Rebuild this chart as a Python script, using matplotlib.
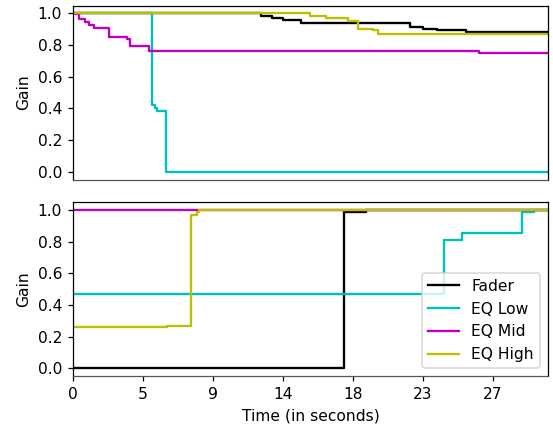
import numpy as np
from matplotlib import pyplot as plt
from matplotlib.ticker import MultipleLocator, FuncFormatter

#--------------------------------------------------------------------------------------------
# gain automation (time in seconds, value), step-wise
t_end = 30.8
names = ['Fader', 'EQ Low', 'EQ Mid', 'EQ High']
colors = ['k', 'c', 'm', 'y']

# upper panel
fader_t1 = [0, 12.2, 12.9, 13.6, 14.8, 21.84, 22.7, 23.6, 25.5, t_end]
fader_v1 = [1.0, 0.985, 0.97, 0.958, 0.94, 0.916, 0.905, 0.895, 0.886, 0.886]
low_t1 = [0, 5.12, 5.3, 5.42, 6.05, t_end]
low_v1 = [1.0, 0.42, 0.40, 0.385, 0.0, 0.0]
mid_t1 = [0, 0.1, 0.41, 0.78, 1.05, 1.36, 2.35, 3.48, 3.69, 4.94, 26.3, t_end]
mid_v1 = [1.0, 0.995, 0.968, 0.947, 0.926, 0.909, 0.853, 0.84, 0.796, 0.766, 0.75, 0.75]
high_t1 = [0, 15.36, 16.4, 17.8, 18.45, 19.44, 19.76, t_end]
high_v1 = [1.0, 0.987, 0.973, 0.955, 0.90, 0.895, 0.869, 0.869]

# lower panel
fader_t2 = [0, 17.6, 19.0, t_end]
fader_v2 = [0.0, 0.99, 1.0, 1.0]
low_t2 = [0, 24.05, 25.2, 29.1, 29.9, t_end]
low_v2 = [0.468, 0.81, 0.853, 0.99, 1.0, 1.0]
mid_t2 = [0, t_end]
mid_v2 = [1.0, 1.0]
high_t2 = [0, 6.12, 6.64, 7.62, 8.05, 8.18, t_end]
high_v2 = [0.262, 0.266, 0.27, 0.968, 0.99, 1.0, 1.0]

panels = [
  [(fader_t1, fader_v1), (low_t1, low_v1), (mid_t1, mid_v1), (high_t1, high_v1)],
  [(fader_t2, fader_v2), (low_t2, low_v2), (mid_t2, mid_v2), (high_t2, high_v2)],
]

#--------------------------------------------------------------------------------------------
dpi = 112
fig, axs = plt.subplots(2, 1, sharex=True, figsize=(553 / dpi, 430 / dpi), dpi=dpi)
fig.subplots_adjust(left=0.132, right=0.991, top=0.987, bottom=0.125, hspace=0.13)

for ax, series in zip(axs, panels):
  for (t, v), name, c in zip(series, names, colors):
    ax.plot(t, v, drawstyle='steps-post', lw=1.5, c=c, label=name)
  ax.set_ylabel('Gain')
  ax.set_xlim(0, t_end)
  ax.yaxis.set_major_locator(MultipleLocator(0.2))
  ax.yaxis.set_major_formatter(FuncFormatter(lambda y, p: '%.1f' % y))
  ax.spines['bottom'].set_color('#555555')

axs[0].tick_params(axis='x', bottom=False)

# ticks every 200000 samples at 44.1 kHz, labelled in rounded seconds
axs[1].xaxis.set_major_locator(MultipleLocator(200000 / 44100))
axs[1].xaxis.set_major_formatter(FuncFormatter(lambda x, p: '%d' % round(x)))
axs[1].set_xlabel('Time (in seconds)')
axs[1].legend(loc='lower right')

plt.savefig('out.png', dpi=dpi)
